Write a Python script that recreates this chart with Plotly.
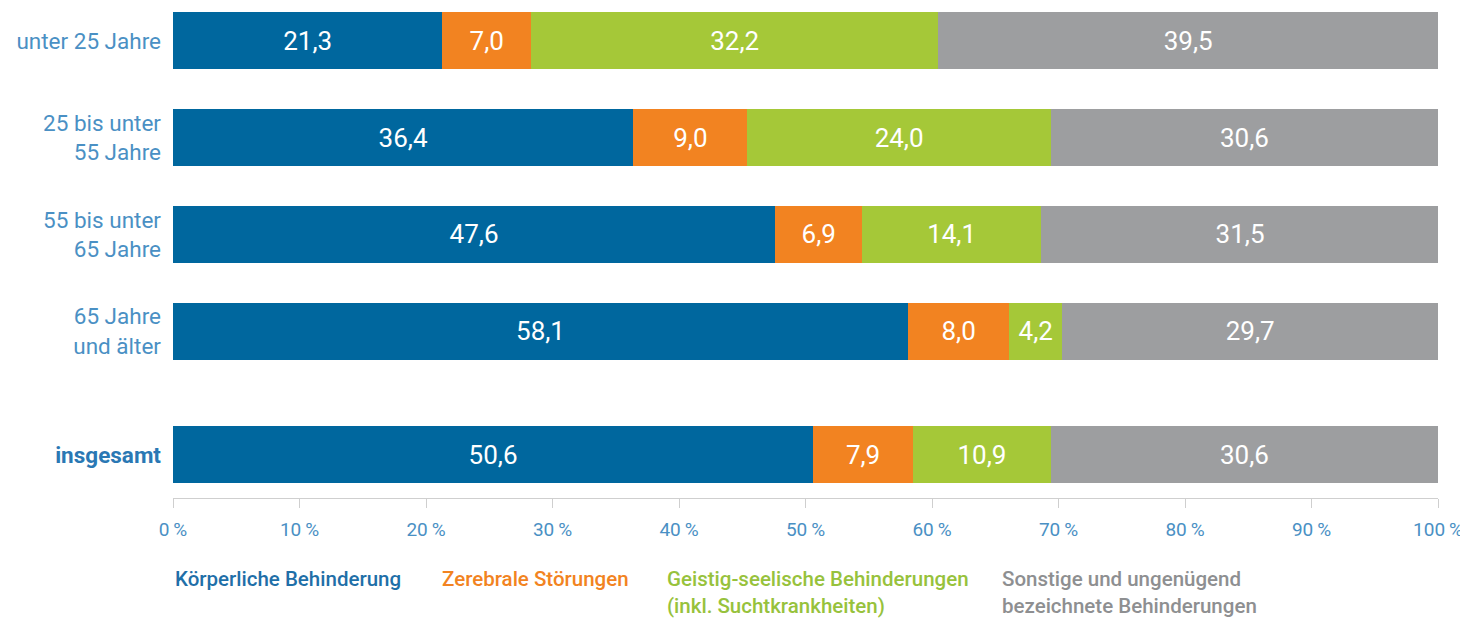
import plotly.graph_objects as go
from plotly.subplots import make_subplots

groups = ["unter 25 Jahre", "25 bis unter<br>55 Jahre", "55 bis unter<br>65 Jahre", "65 Jahre<br>und älter"]
total_label = ["<b>insgesamt</b>"]
series = ["Körperliche Behinderung", "Zerebrale Störungen",
          "Geistig-seelische Behinderungen<br>(inkl. Suchtkrankheiten)",
          "Sonstige und ungenügend<br>bezeichnete Behinderungen"]
koerperlich = [21.3, 36.4, 47.6, 58.1]
zerebral = [7.0, 9.0, 6.9, 8.0]
geistig = [32.2, 24.0, 14.1, 4.2]
sonstige = [39.5, 30.6, 31.5, 29.7]
total_values = [50.6, 7.9, 10.9, 30.6]
x_ticks = [0, 10, 20, 30, 40, 50, 60, 70, 80, 90, 100]
x_tick_labels = [f"{v}\u2009%" for v in x_ticks]

colors = ["#00679e", "#f28321", "#a5c838", "#9d9ea0"]
label_colors = ["#1f6fa8", "#f28321", "#97c23c", "#8e8f91"]
tick_blue = "#4a90c4"
FONT = "Roboto"

# page has an 8px body margin: figure drawn 8px in from the top-left corner
W, H = 1460, 610
L, R = 165, 30
plot_h = 490
plot_w = W - L - R

fig = make_subplots(rows=2, cols=1, shared_xaxes=True, vertical_spacing=0)

group_values = [koerperlich, zerebral, geistig, sonstige]
bar_text = dict(color="white", size=26, family=FONT)
for i, vals in enumerate(group_values):
    fig.add_trace(go.Bar(y=groups, x=vals, orientation="h", name=series[i],
                         marker=dict(color=colors[i], line=dict(width=0)),
                         texttemplate="%{x:.1f}", textposition="inside",
                         insidetextanchor="middle", constraintext="none",
                         textfont=bar_text, showlegend=False, hoverinfo="skip"),
                  row=1, col=1)
for i, v in enumerate(total_values):
    fig.add_trace(go.Bar(y=total_label, x=[v], orientation="h", name=series[i],
                         marker=dict(color=colors[i], line=dict(width=0)),
                         texttemplate="%{x:.1f}", textposition="inside",
                         insidetextanchor="middle", constraintext="none",
                         textfont=bar_text, showlegend=False, hoverinfo="skip"),
                  row=2, col=1)

fig.update_layout(
    width=W, height=H, barmode="stack", bargap=0.41,
    separators=",.",
    paper_bgcolor="white", plot_bgcolor="white",
    margin=dict(l=L, r=R, t=0, b=H - plot_h, pad=0),
    font=dict(family=FONT),
)
fig.update_layout(
    yaxis=dict(domain=[1 - 382 / plot_h, 1], range=[3.61, -0.341],
               tickfont=dict(size=22.5, color=tick_blue, family=FONT),
               showgrid=False, zeroline=False, showline=False, ticks="", ticklabelstandoff=11),
    yaxis2=dict(domain=[0, 86 / plot_h], range=[-0.445, 0.444],
                tickfont=dict(size=22.5, color="#2a78b4", family=FONT),
                showgrid=False, zeroline=False, showline=False, ticks="", ticklabelstandoff=11),
    xaxis=dict(range=[0, 100], showgrid=False, zeroline=False, showline=False,
               showticklabels=False, ticks=""),
    xaxis2=dict(range=[0, 100], tickmode="array", tickvals=x_ticks, ticktext=x_tick_labels,
                showgrid=False, zeroline=False,
                showline=True, linecolor="#cfcfcf", linewidth=1,
                ticks="outside", ticklen=9, tickcolor="#cfcfcf", tickwidth=1,
                ticklabelstandoff=5,
                tickfont=dict(size=19, color=tick_blue, family=FONT)),
)

legend_x = [165, 432, 657, 992]
legend_top = 557
for i, name in enumerate(series):
    fig.add_annotation(x=(legend_x[i] - L) / plot_w, y=(plot_h - legend_top) / plot_h,
                       xref="paper", yref="paper",
                       xanchor="left", yanchor="top", align="left", showarrow=False,
                       text=name, font=dict(size=20.5, color=label_colors[i], family=FONT, weight=500))

fig.write_html("out.html")
